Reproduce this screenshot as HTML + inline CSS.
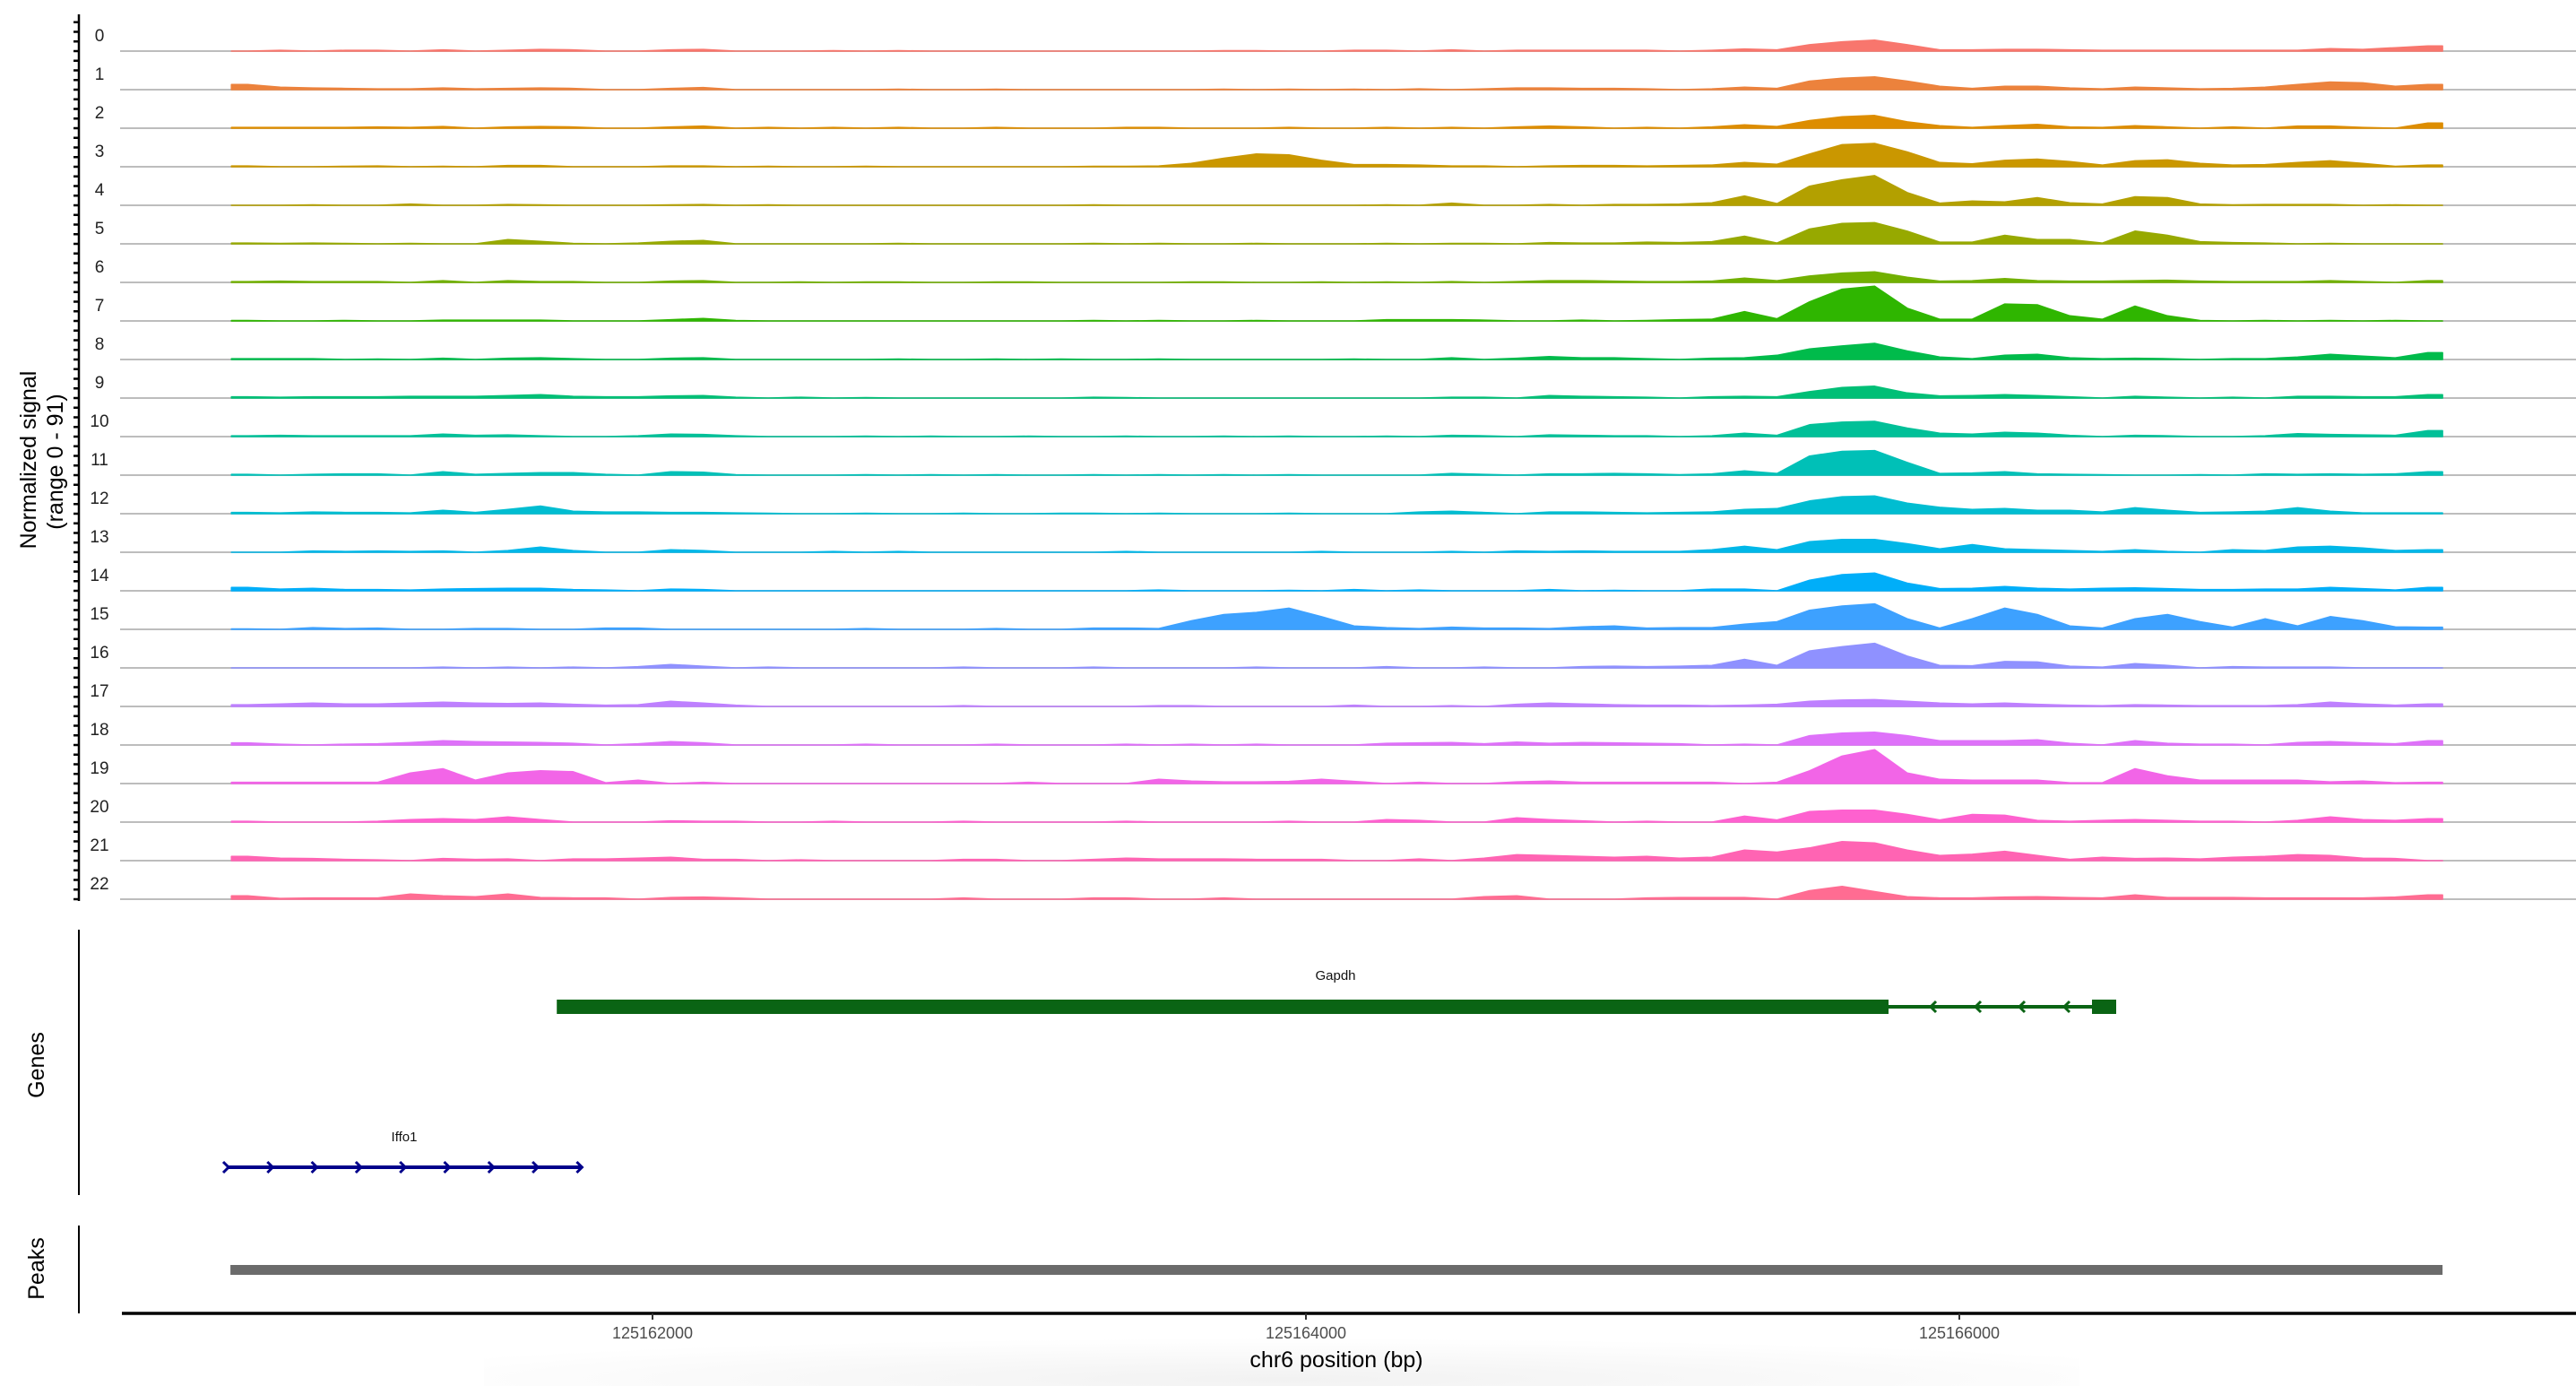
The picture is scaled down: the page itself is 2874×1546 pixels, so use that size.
<!DOCTYPE html>
<html><head><meta charset="utf-8">
<style>
html,body{margin:0;padding:0;background:#fff;}
svg{display:block;font-family:"Liberation Sans",Arial,sans-serif;}
</style></head>
<body>
<svg id="chart" width="2874" height="1546" viewBox="0 0 2874 1546" xmlns="http://www.w3.org/2000/svg">
  <defs>
    <radialGradient id="shade" cx="0.5" cy="0.9" r="0.6">
      <stop offset="0" stop-color="#f2f2f2"/><stop offset="1" stop-color="#ffffff"/>
    </radialGradient>
  </defs>
  <rect x="540" y="1470" width="1780" height="76" fill="url(#shade)"/>
  <g id="tracks"></g>
  <g id="axes"></g>
  <text x="32" y="513" transform="rotate(-90 32 513)" text-anchor="middle" dominant-baseline="central" font-size="25" fill="#000">Normalized signal</text>
  <text x="62" y="515" transform="rotate(-90 62 515)" text-anchor="middle" dominant-baseline="central" font-size="25" fill="#000">(range 0 - 91)</text>
  <text x="41" y="1188" transform="rotate(-90 41 1188)" text-anchor="middle" dominant-baseline="central" font-size="25" fill="#000">Genes</text>
  <text x="41" y="1415" transform="rotate(-90 41 1415)" text-anchor="middle" dominant-baseline="central" font-size="25" fill="#000">Peaks</text>
  <text x="1491" y="1525" text-anchor="middle" font-size="25" fill="#000">chr6 position (bp)</text>
</svg>
<script>
const NS = "http://www.w3.org/2000/svg";
// ---- data ----
const trackNames = ["0","1","2","3","4","5","6","7","8","9","10","11","12","13","14","15","16","17","18","19","20","21","22"];
const binStart = 125160711;
const binSize = 99.6;
const nBins = 68;
const dataEnd = 125167479;
const xTicks = [125162000, 125164000, 125166000];
const xTickLabels = ["125162000", "125164000", "125166000"];
const yMax = 91;
// sparse [bin, value] pairs per track
const t0 = [[1,2],[3,2],[4,2],[6,3],[8,2],[9,4],[10,3],[13,3],[14,4],[18,1],[20,1],[30,1],[31,1],[34,2],[35,2],[37,3],[39,2],[40,2],[41,2],[42,2],[43,2],[45,2],[46,5],[47,3],[48,15],[49,22],[50,26],[51,15],[52,3],[53,3],[54,4],[55,4],[56,3],[57,2],[58,2],[59,2],[60,2],[61,2],[62,2],[63,2],[64,6],[65,4],[66,8],[67,12]];
const t1 = [[0,12],[1,6],[2,4],[3,3],[4,2],[5,2],[6,4],[7,2],[8,3],[9,4],[10,3],[13,3],[14,5],[20,1],[23,1],[30,1],[32,1],[34,1],[36,2],[38,2],[39,4],[40,4],[41,3],[42,3],[43,2],[45,2],[46,6],[47,3],[48,20],[49,27],[50,30],[51,20],[52,8],[53,3],[54,8],[55,8],[56,4],[57,2],[58,6],[59,4],[60,2],[61,3],[62,6],[63,12],[64,18],[65,16],[66,8],[67,12]];
const t2 = [[0,2],[1,2],[2,2],[3,2],[4,3],[5,2],[6,4],[8,3],[9,4],[10,3],[13,3],[14,5],[16,2],[18,2],[20,2],[23,2],[27,2],[28,2],[32,2],[35,2],[37,2],[39,3],[40,5],[41,3],[43,2],[45,3],[46,8],[47,4],[48,18],[49,27],[50,30],[51,15],[52,6],[53,2],[54,6],[55,9],[56,3],[57,2],[58,6],[59,3],[61,3],[63,5],[64,5],[65,2],[67,12]];
const t3 = [[0,2],[3,1],[4,2],[6,1],[8,3],[9,3],[13,2],[14,2],[16,1],[19,1],[26,1],[27,1],[28,2],[29,8],[30,20],[31,30],[32,28],[33,15],[34,5],[35,5],[36,4],[37,2],[38,2],[40,2],[41,3],[42,3],[43,2],[44,3],[45,4],[46,10],[47,6],[48,30],[49,52],[50,55],[51,35],[52,10],[53,7],[54,15],[55,18],[56,12],[57,4],[58,14],[59,16],[60,8],[61,4],[62,5],[63,10],[64,14],[65,8],[66,1],[67,4]];
const t4 = [[2,1],[5,3],[8,2],[9,1],[13,1],[14,2],[16,1],[26,1],[35,1],[37,5],[40,2],[42,2],[43,2],[44,3],[45,6],[46,22],[47,4],[48,45],[49,60],[50,70],[51,30],[52,5],[53,10],[54,8],[55,18],[56,6],[57,3],[58,20],[59,18],[60,3],[61,1],[62,2],[63,2],[64,2],[66,1]];
const t5 = [[0,2],[1,1],[2,2],[3,1],[5,1],[8,10],[9,6],[10,1],[12,2],[13,6],[14,8],[20,1],[26,1],[28,1],[31,1],[35,1],[37,1],[38,1],[40,3],[41,2],[42,2],[43,4],[44,3],[45,5],[46,18],[47,2],[48,35],[49,48],[50,50],[51,30],[52,4],[53,4],[54,20],[55,10],[56,10],[57,2],[58,30],[59,20],[60,5],[61,3],[62,2],[64,1]];
const t6 = [[0,2],[1,3],[2,2],[3,2],[4,2],[6,4],[8,4],[9,2],[10,2],[13,3],[14,4],[17,1],[19,1],[20,1],[23,1],[24,1],[29,1],[30,1],[33,1],[35,1],[37,2],[39,2],[40,4],[41,4],[42,3],[43,2],[44,2],[45,3],[46,10],[47,4],[48,15],[49,22],[50,25],[51,12],[52,3],[53,4],[54,9],[55,4],[56,3],[57,3],[58,4],[59,5],[60,3],[61,2],[62,2],[63,2],[64,4],[65,2],[67,4]];
const t7 = [[0,1],[3,1],[6,2],[7,2],[8,2],[9,2],[13,3],[14,6],[15,1],[26,1],[28,1],[31,1],[35,3],[36,3],[37,3],[38,2],[41,2],[43,1],[44,3],[45,4],[46,22],[47,5],[48,45],[49,75],[50,82],[51,30],[52,4],[53,4],[54,40],[55,38],[56,12],[57,4],[58,35],[59,12],[60,1],[62,1],[64,1],[66,1]];
const t8 = [[0,2],[1,2],[2,2],[4,1],[6,3],[8,3],[9,4],[10,2],[13,3],[14,4],[20,1],[23,1],[25,1],[28,1],[34,1],[37,4],[39,3],[40,7],[41,4],[42,4],[43,2],[45,3],[46,4],[47,10],[48,25],[49,32],[50,38],[51,20],[52,6],[53,2],[54,10],[55,12],[56,4],[57,2],[58,3],[59,2],[61,2],[62,2],[63,6],[64,12],[65,8],[66,4],[67,16]];
const t9 = [[0,3],[1,2],[2,3],[3,3],[4,3],[5,4],[6,4],[7,4],[8,6],[9,8],[10,4],[11,3],[12,3],[13,5],[14,6],[15,2],[17,2],[19,1],[26,2],[27,1],[37,2],[38,2],[40,6],[41,4],[42,3],[43,2],[45,3],[46,4],[47,3],[48,15],[49,25],[50,28],[51,12],[52,5],[53,6],[54,8],[55,6],[56,3],[58,4],[59,2],[61,2],[63,4],[64,4],[65,3],[66,3],[67,8]];
const t10 = [[0,2],[1,3],[2,2],[3,2],[4,2],[5,2],[6,6],[7,3],[8,4],[9,2],[12,2],[13,6],[14,5],[15,2],[19,1],[21,1],[24,1],[27,1],[30,1],[32,1],[35,1],[37,3],[38,2],[40,4],[41,3],[42,2],[43,2],[45,2],[46,8],[47,3],[48,28],[49,34],[50,36],[51,20],[52,8],[53,6],[54,10],[55,8],[56,3],[58,3],[59,2],[62,2],[63,7],[64,5],[65,4],[66,3],[67,14]];
const t11 = [[0,2],[2,2],[3,3],[4,3],[6,8],[7,2],[8,4],[9,6],[10,6],[11,2],[13,8],[14,7],[15,1],[19,1],[21,1],[23,1],[26,1],[28,1],[30,1],[32,1],[37,4],[38,2],[40,3],[41,3],[42,4],[43,3],[44,1],[45,3],[46,10],[47,4],[48,45],[49,56],[50,58],[51,30],[52,4],[53,5],[54,8],[55,3],[56,2],[57,1],[60,1],[62,3],[63,2],[64,3],[65,2],[66,3],[67,8]];
const t12 = [[0,3],[1,2],[2,4],[3,3],[4,3],[5,2],[6,8],[7,3],[8,10],[9,18],[10,6],[11,4],[12,4],[13,3],[14,3],[15,2],[16,1],[19,1],[22,1],[25,1],[26,1],[28,1],[32,1],[36,4],[37,6],[38,3],[40,4],[41,4],[42,3],[43,2],[44,3],[45,4],[46,10],[47,12],[48,30],[49,40],[50,42],[51,25],[52,15],[53,10],[54,12],[55,8],[56,8],[57,4],[58,14],[59,8],[60,3],[61,4],[62,6],[63,14],[64,6],[65,2],[66,2],[67,2]];
const t13 = [[2,3],[3,2],[4,3],[5,2],[6,3],[8,4],[9,12],[10,4],[13,6],[14,4],[18,2],[20,2],[27,2],[33,2],[37,2],[39,3],[40,2],[41,3],[42,2],[43,2],[44,2],[45,6],[46,14],[47,6],[48,25],[49,30],[50,30],[51,20],[52,8],[53,18],[54,8],[55,6],[56,4],[57,2],[58,6],[59,2],[61,6],[62,4],[63,12],[64,14],[65,10],[66,4],[67,6]];
const t14 = [[0,8],[1,4],[2,6],[3,3],[4,3],[5,2],[6,4],[7,5],[8,6],[9,6],[10,3],[11,2],[13,4],[14,3],[28,2],[32,1],[34,3],[36,2],[40,3],[42,1],[45,4],[46,4],[48,25],[49,38],[50,42],[51,18],[52,5],[53,6],[54,10],[55,6],[56,4],[57,6],[58,7],[59,5],[60,3],[61,3],[62,4],[63,4],[64,8],[65,5],[66,2],[67,8]];
const t15 = [[0,1],[2,4],[3,2],[4,3],[7,2],[8,2],[11,3],[12,3],[19,2],[23,2],[26,3],[27,3],[28,2],[29,20],[30,35],[31,40],[32,50],[33,30],[34,8],[35,4],[36,2],[37,5],[38,3],[39,3],[40,2],[41,6],[42,8],[43,3],[44,4],[45,4],[46,12],[47,18],[48,45],[49,55],[50,60],[51,25],[52,3],[53,25],[54,50],[55,35],[56,8],[57,3],[58,25],[59,35],[60,18],[61,5],[62,25],[63,8],[64,30],[65,20],[66,6],[67,5]];
const t16 = [[6,2],[8,2],[10,2],[12,3],[13,8],[14,4],[16,2],[22,2],[26,2],[31,2],[35,3],[38,2],[41,3],[42,4],[43,3],[44,4],[45,6],[46,20],[47,6],[48,40],[49,50],[50,58],[51,28],[52,6],[53,5],[54,15],[55,14],[56,4],[57,2],[58,10],[59,6],[61,3],[62,2],[63,2],[64,2]];
const t17 = [[0,4],[1,6],[2,8],[3,6],[4,6],[5,8],[6,10],[7,8],[8,7],[9,8],[10,5],[11,3],[12,4],[13,12],[14,8],[15,3],[22,2],[28,2],[29,2],[34,3],[37,2],[39,5],[40,8],[41,6],[42,4],[43,3],[44,3],[45,2],[46,3],[47,5],[48,12],[49,15],[50,16],[51,12],[52,8],[53,6],[54,8],[55,5],[56,3],[57,2],[58,4],[59,3],[60,2],[61,2],[62,2],[63,4],[64,10],[65,6],[66,3],[67,6]];
const t18 = [[0,5],[1,2],[3,2],[4,3],[5,6],[6,10],[7,8],[8,7],[9,6],[10,4],[12,3],[13,8],[14,5],[19,2],[23,2],[27,2],[29,2],[31,2],[35,4],[36,5],[37,6],[38,3],[39,7],[40,4],[41,6],[42,5],[43,4],[44,3],[46,2],[48,22],[49,28],[50,30],[51,22],[52,10],[53,10],[54,10],[55,12],[56,4],[58,10],[59,4],[60,2],[61,2],[63,6],[64,8],[65,5],[66,3],[67,10]];
const t19 = [[0,3],[1,3],[2,3],[3,3],[4,3],[5,25],[6,35],[7,8],[8,25],[9,30],[10,28],[11,2],[12,8],[14,3],[24,3],[28,10],[29,6],[30,4],[31,4],[32,5],[33,10],[34,5],[36,3],[39,4],[40,6],[41,3],[42,3],[43,3],[44,3],[45,3],[47,3],[48,30],[49,65],[50,80],[51,25],[52,10],[53,8],[54,8],[55,8],[56,2],[57,2],[58,35],[59,18],[60,8],[61,8],[62,8],[63,8],[64,4],[65,6],[66,2],[67,3]];
const t20 = [[0,2],[4,2],[5,6],[6,8],[7,6],[8,12],[9,6],[13,3],[14,2],[15,2],[18,2],[22,2],[27,2],[32,2],[35,6],[36,4],[39,10],[40,6],[41,3],[43,2],[46,14],[47,5],[48,25],[49,28],[50,28],[51,18],[52,5],[53,18],[54,16],[55,4],[56,2],[57,4],[58,6],[59,4],[60,2],[61,2],[63,4],[64,12],[65,6],[66,4],[67,8]];
const t21 = [[0,10],[1,6],[2,5],[3,3],[4,2],[6,5],[7,3],[8,4],[10,4],[11,4],[12,6],[13,8],[14,3],[15,3],[17,2],[22,3],[23,3],[26,3],[27,6],[28,4],[29,4],[30,4],[31,3],[32,3],[33,3],[36,4],[38,6],[39,14],[40,12],[41,10],[42,8],[43,10],[44,6],[45,8],[46,25],[47,20],[48,30],[49,45],[50,42],[51,25],[52,12],[53,15],[54,22],[55,12],[56,3],[57,8],[58,5],[59,6],[60,4],[61,8],[62,10],[63,14],[64,12],[65,6],[66,5]];
const t22 = [[0,8],[1,2],[2,3],[3,3],[4,3],[5,12],[6,8],[7,6],[8,12],[9,4],[10,3],[11,3],[13,4],[14,5],[15,3],[22,3],[26,3],[27,3],[30,3],[38,6],[39,8],[43,3],[44,4],[45,4],[46,4],[48,20],[49,30],[50,18],[51,6],[52,3],[53,3],[54,5],[55,6],[56,4],[57,3],[58,10],[59,4],[60,4],[61,4],[62,3],[63,3],[64,3],[65,3],[66,5],[67,10]];
const trackData = [t0,t1,t2,t3,t4,t5,t6,t7,t8,t9,t10,t11,t12,t13,t14,t15,t16,t17,t18,t19,t20,t21,t22];
const genes = [{name:"Gapdh", start:125161707, end:125165834, strand:-1}];
const peaks = [[125160708, 125167479]];

// ---- scales ----
const px0 = 728, pxPerBp = 0.3645;
function xs(bp){ return px0 + (bp - 125162000) * pxPerBp; }
const base0 = 57, trackStep = 43, trackH = 43;
function ys(track, v){ return base0 + track*trackStep - (v / yMax) * trackH; }

function hcl(h){
  const L=65, C=100, hr=h*Math.PI/180;
  const u=C*Math.cos(hr), v=C*Math.sin(hr);
  const Xn=95.047,Yn=100,Zn=108.883;
  const un=4*Xn/(Xn+15*Yn+3*Zn), vn=9*Yn/(Xn+15*Yn+3*Zn);
  const Y=Yn*Math.pow((L+16)/116,3);
  const up=u/(13*L)+un, vp=v/(13*L)+vn;
  const X=Y*9*up/(4*vp), Z=Y*(12-3*up-20*vp)/(4*vp);
  const x=X/100,y=Y/100,z=Z/100;
  let r=3.2406*x-1.5372*y-0.4986*z, g=-0.9689*x+1.8758*y+0.0415*z, b=0.0557*x-0.2040*y+1.0570*z;
  const gam=c=>{c=Math.max(0,Math.min(1,c));return Math.round(255*(c<=0.0031308?12.92*c:1.055*Math.pow(c,1/2.4)-0.055));};
  return "rgb("+gam(r)+","+gam(g)+","+gam(b)+")";
}

const tracksG = document.getElementById("tracks");
const axesG = document.getElementById("axes");
function mk(tag, attrs, parent){
  const e=document.createElementNS(NS,tag);
  for(const k in attrs) e.setAttribute(k, attrs[k]);
  parent.appendChild(e); return e;
}

// tracks
const nT = trackNames.length;
const xEnd = xs(dataEnd);
trackNames.forEach((nm, i)=>{
  const base = base0 + i*trackStep;
  const col = hcl(15 + 360/nT*i);
  const line = mk("line",{x1:134,x2:2874,y1:base,y2:base,stroke:"#bdbdbd","stroke-width":2},tracksG);
  
  
  const vals = new Array(nBins).fill(0);
  trackData[i].forEach(p=>{ vals[p[0]] = p[1]; });
  const xS = xs(binStart);
  let d = "M"+xS.toFixed(1)+","+base+" L"+xS.toFixed(1)+","+ys(i,vals[0]).toFixed(1);
  for(let b=0;b<nBins;b++){
    const xc = Math.min(xEnd, xs(binStart + (b+0.5)*binSize));
    d += " L"+xc.toFixed(1)+","+ys(i, vals[b]).toFixed(1);
  }
  d += " L"+xEnd.toFixed(1)+","+ys(i,vals[nBins-1]).toFixed(1)+" L"+xEnd.toFixed(1)+","+base+" Z";
  const area = mk("path",{d:d, fill:col, stroke:col, "stroke-width":1.5, "stroke-linejoin":"round"},tracksG);
  
  
  const lab = mk("text",{x:111,y:base-11,"text-anchor":"middle","font-size":19,fill:"#222"},tracksG);
  lab.textContent = nm;
  
  
});

// left axis + ticks
const yAxis = mk("line",{x1:88,x2:88,y1:16,y2:1005,stroke:"#000","stroke-width":2.5},axesG);


for(let i=0;i<nT;i++){
  for(let j=0;j<4;j++){
    const y = base0 + i*trackStep - j*10.75;
    const tk = mk("line",{x1:82,x2:88,y1:y,y2:y,stroke:"#000","stroke-width":2.5},axesG);
    
    
  }
}

// genes panel
const gAx = mk("line",{x1:88,x2:88,y1:1037,y2:1333,stroke:"#000","stroke-width":2},axesG);


const gc = "#0a6414";
const gThick = mk("rect",{x:xs(genes[0].start),y:1115,width:2107-xs(genes[0].start),height:16,fill:gc},axesG);


const gLine = mk("line",{x1:2107,x2:2334,y1:1123,y2:1123,stroke:gc,"stroke-width":4},axesG);


[2155,2205,2254,2304].forEach(x=>{
  const a = mk("path",{d:"M"+(x+5)+",1117 L"+(x-1)+",1123 L"+(x+5)+",1129",fill:"none",stroke:gc,"stroke-width":3},axesG);
  
  
});
const gBox = mk("rect",{x:2334,y:1115,width:27,height:16,fill:gc},axesG);


const gLab = mk("text",{x:1490,y:1093,"text-anchor":"middle","font-size":15,fill:"#111"},axesG);
gLab.textContent = "Gapdh";



const ic = "#00008b";
const iLine = mk("line",{x1:253,x2:648,y1:1302,y2:1302,stroke:ic,"stroke-width":4},axesG);


for(let k=0;k<9;k++){
  const x = 253 + k*49.3;
  const a = mk("path",{d:"M"+(x-4)+",1296 L"+(x+2)+",1302 L"+(x-4)+",1308",fill:"none",stroke:ic,"stroke-width":3},axesG);
  
  
}
const iLab = mk("text",{x:451,y:1273,"text-anchor":"middle","font-size":15,fill:"#111"},axesG);
iLab.textContent = "Iffo1";



// peaks panel
const pAx = mk("line",{x1:88,x2:88,y1:1367,y2:1465,stroke:"#000","stroke-width":2},axesG);


peaks.forEach(p=>{
  const r = mk("rect",{x:xs(p[0]),y:1411,width:xs(p[1])-xs(p[0]),height:11,fill:"#6b6b6b"},axesG);
  
  
});

// x axis
const xAx = mk("line",{x1:136,x2:2874,y1:1465,y2:1465,stroke:"#000","stroke-width":3.5},axesG);


xTicks.forEach((t,i)=>{
  const x = xs(t);
  const tk = mk("line",{x1:x,x2:x,y1:1465,y2:1472,stroke:"#333","stroke-width":2},axesG);
  
  
  const tl = mk("text",{x:x,y:1493,"text-anchor":"middle","font-size":18,fill:"#4d4d4d"},axesG);
  tl.textContent = xTickLabels[i];
  
  
});
</script>
</body></html>
